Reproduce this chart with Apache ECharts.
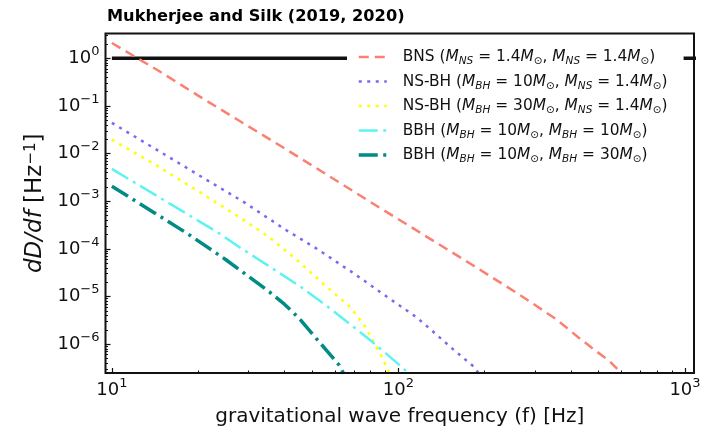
<!DOCTYPE html>
<html><head><meta charset="utf-8">
<script src="https://cdn.jsdelivr.net/npm/echarts@6/dist/echarts.min.js"></script>
<style>html,body{margin:0;padding:0;background:#fff}#c{width:708px;height:432px}</style>
</head><body><div id="c"></div>
<script>
// ---- data ----
const freqBNS = [10, 14.7, 20, 39.1, 53.1, 85.9, 115.6, 180, 264, 355, 427, 490, 543, 603];
const valBNS  = [2.09, 0.525, 0.164, 0.014, 4.47e-3, 7.3e-4, 2.44e-4, 4.7e-5, 1.1e-5, 3.34e-6, 1.35e-6, 7.1e-7, 4.5e-7, 2.4e-7];

const freqNSBH10 = [10, 15, 20, 29.1, 40, 52.1, 70, 85.9, 100, 115.2, 127.5, 156.7, 184, 190.6];
const valNSBH10  = [0.044, 1.02e-2, 3.58e-3, 9.3e-4, 2.6e-4, 9.9e-5, 3.03e-5, 1.27e-5, 6.7e-6, 3.73e-6, 2.21e-6, 7.4e-7, 3.3e-7, 2.4e-7];

const freqNSBH30 = [10, 14.4, 20.4, 27.4, 32.5, 36.1, 44.9, 55.2, 67.9, 76.7, 87.7, 93.1];
const valNSBH30  = [0.0196, 5.5e-3, 1.51e-3, 4.9e-4, 2.5e-4, 1.6e-4, 5.4e-5, 1.75e-5, 6.0e-6, 2.28e-6, 5.3e-7, 2.4e-7];

const freqBBH1010 = [10, 15, 23.2, 27.9, 35, 45.8, 57, 70.3, 80, 88.1, 100, 109];
const valBBH1010  = [4.75e-3, 1.1e-3, 2.29e-4, 1.08e-4, 4.5e-5, 1.56e-5, 5.95e-6, 2.21e-6, 1.19e-6, 7.3e-7, 3.8e-7, 2.4e-7];

const freqBBH1030 = [10, 14, 18.3, 25, 30, 35.7, 40, 45, 50.2, 56, 62.2, 64.4];
const valBBH1030  = [2.06e-3, 5.8e-4, 2.11e-4, 5.9e-5, 2.64e-5, 1.21e-5, 6.9e-6, 3.5e-6, 1.61e-6, 7.5e-7, 3.6e-7, 2.4e-7];

const freqRef = [10, 1100];
const valRef  = [1, 1];

const seriesNames = ['BNS', 'NSBH10', 'NSBH30', 'BBH1010', 'BBH1030'];
const legendLabels = [
  'BNS ({i|M}{si|NS} = 1.4{i|M}{s|⊙}, {i|M}{si|NS} = 1.4{i|M}{s|⊙})',
  'NS-BH ({i|M}{si|BH} = 10{i|M}{s|⊙}, {i|M}{si|NS} = 1.4{i|M}{s|⊙})',
  'NS-BH ({i|M}{si|BH} = 30{i|M}{s|⊙}, {i|M}{si|NS} = 1.4{i|M}{s|⊙})',
  'BBH ({i|M}{si|BH} = 10{i|M}{s|⊙}, {i|M}{si|BH} = 10{i|M}{s|⊙})',
  'BBH ({i|M}{si|BH} = 10{i|M}{s|⊙}, {i|M}{si|BH} = 30{i|M}{s|⊙})'
];
const titleText = 'Mukherjee and Silk (2019, 2020)';
const xName = 'gravitational wave frequency (f) [Hz]';
const yName = '{it|dD/df} [Hz{sup|−1}]';
const xMajorTicks = [10, 100, 1000];
const xMinorTicks = [20, 30, 40, 50, 60, 70, 80, 90, 200, 300, 400, 500, 600, 700, 800, 900];
const yMajorTicks = [1e-6, 1e-5, 1e-4, 1e-3, 1e-2, 1e-1, 1];
const yMinorTicks = [];
for (let e = -7; e <= 0; e++) for (let m = 2; m <= 9; m++) yMinorTicks.push(m * Math.pow(10, e));

// ---- styling ----
const FONT = 'DejaVu Sans';
const xMin = 9.5, xMax = 1075, yMin = 2.48e-7, yMax = 3.3;

function pow10Label(v) {
  const e = Math.round(Math.log10(v));
  return '{b|10}{s|' + (e < 0 ? '−' + (-e) : String(e)) + '}';
}
const tickRich = {
  b: { fontSize: 18, fontFamily: FONT, color: '#111', lineHeight: 26 },
  s: { fontSize: 13, fontFamily: FONT, color: '#111', lineHeight: 13, verticalAlign: 'top' }
};

const colors = ['#fa8072', '#7b68ee', '#ffff00', '#5ff2f2', '#008b84'];
const widths = [2.5, 2.5, 2.5, 2.5, 3.5];
const dashes = [[10, 6], [3, 5.5], [3, 5.5], [19, 5.5, 3, 5.5], [19, 5.5, 3, 5.5]];
const freqs = [freqBNS, freqNSBH10, freqNSBH30, freqBBH1010, freqBBH1030];
const vals = [valBNS, valNSBH10, valNSBH30, valBBH1010, valBBH1030];

const series = [{
  name: 'ref', type: 'line', symbol: 'none', silent: true, z: 2,
  data: freqRef.map((f, i) => [f, valRef[i]]),
  lineStyle: { color: '#111', width: 3.5 }
}];
seriesNames.forEach((n, k) => {
  series.push({
    name: n, type: 'line', symbol: 'none', showSymbol: false, clip: true, z: 3,
    data: freqs[k].map((f, i) => [f, vals[k][i]]),
    lineStyle: { color: colors[k], width: widths[k], type: dashes[k], cap: 'butt' },
    itemStyle: { color: colors[k] }
  });
});

const chart = echarts.init(document.getElementById('c'), null, { renderer: 'canvas' });
chart.setOption({
  animation: false,
  backgroundColor: '#fff',
  title: {
    text: titleText, left: 107, top: 9, padding: 0,
    textStyle: { fontFamily: FONT, fontWeight: 'bold', fontSize: 16.2, color: '#000' }
  },
  grid: { left: 105.5, right: 14, top: 33.5, bottom: 54.5, show: true, borderColor: '#111', borderWidth: 2, containLabel: false, z: 10 },
  legend: {
    orient: 'vertical', left: 347, top: 41, padding: [6, 16, 8, 10],
    backgroundColor: '#fff', borderWidth: 0,
    itemWidth: 28, itemHeight: 14, itemGap: 4.5,
    itemStyle: { opacity: 0, color: 'rgba(0,0,0,0)', borderWidth: 0 },
    data: seriesNames.map((n, k) => ({
      name: n,
      lineStyle: { width: widths[k], opacity: 1 },
      itemStyle: { opacity: 0, color: 'rgba(0,0,0,0)', borderColor: 'rgba(0,0,0,0)', borderWidth: 0 }
    })),
    formatter: n => '{g|}' + legendLabels[seriesNames.indexOf(n)],
    textStyle: {
      fontFamily: FONT, fontSize: 15.4, color: '#111', lineHeight: 20,
      rich: {
        g: { width: 11 },
        i: { fontFamily: FONT, fontSize: 15.4, fontStyle: 'italic', color: '#111', lineHeight: 20 },
        si: { fontFamily: FONT, fontSize: 10.5, fontStyle: 'italic', color: '#111', lineHeight: 10, verticalAlign: 'bottom' },
        s: { fontFamily: FONT, fontSize: 10.5, color: '#111', lineHeight: 10, verticalAlign: 'bottom' }
      }
    }
  },
  xAxis: [{
    type: 'log', logBase: 10, min: xMin, max: xMax, position: 'bottom',
    axisLine: { show: false }, splitLine: { show: false }, minorTick: { show: false },
    axisTick: { show: true, inside: true, length: 5, customValues: xMajorTicks, lineStyle: { color: '#111', width: 1.2 } },
    axisLabel: { customValues: xMajorTicks, formatter: pow10Label, margin: 4, rich: tickRich, showMinLabel: true, showMaxLabel: true },
    name: xName, nameLocation: 'middle', nameGap: 34,
    nameTextStyle: { fontFamily: FONT, fontSize: 20, color: '#111' }
  }, {
    type: 'log', logBase: 10, min: xMin, max: xMax, position: 'bottom',
    axisLine: { show: false }, splitLine: { show: false }, axisLabel: { show: false },
    axisTick: { show: true, inside: true, length: 2.5, customValues: xMinorTicks, lineStyle: { color: '#111', width: 1 } }
  }],
  yAxis: [{
    type: 'log', logBase: 10, min: yMin, max: yMax, position: 'left',
    axisLine: { show: false }, splitLine: { show: false }, minorTick: { show: false },
    axisTick: { show: true, inside: true, length: 5, customValues: yMajorTicks, lineStyle: { color: '#111', width: 1.2 } },
    axisLabel: { customValues: yMajorTicks, formatter: pow10Label, margin: 6, rich: tickRich },
    name: yName, nameLocation: 'middle', nameGap: 57, nameRotate: 90,
    nameTextStyle: {
      fontFamily: FONT, fontSize: 23, color: '#111',
      rich: {
        it: { fontFamily: FONT, fontSize: 23, fontStyle: 'italic', color: '#111' },
        sup: { fontFamily: FONT, fontSize: 15, color: '#111', lineHeight: 15, verticalAlign: 'top' }
      }
    }
  }, {
    type: 'log', logBase: 10, min: yMin, max: yMax, position: 'left',
    axisLine: { show: false }, splitLine: { show: false }, axisLabel: { show: false },
    axisTick: { show: true, inside: true, length: 2.5, customValues: yMinorTicks.filter(v => v >= yMin && v <= yMax), lineStyle: { color: '#111', width: 1 } }
  }],
  series: series
});
</script></body></html>
